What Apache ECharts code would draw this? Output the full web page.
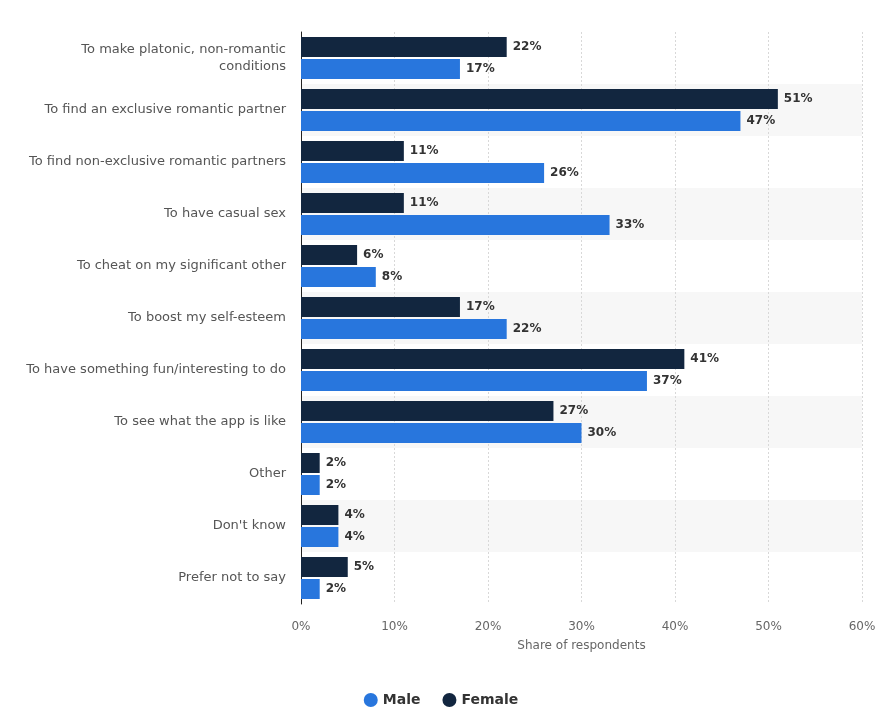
<!DOCTYPE html>
<html>
<head>
<meta charset="utf-8">
<script src="https://cdn.jsdelivr.net/npm/echarts@6/dist/echarts.min.js"></script>
<style>
  html, body { margin: 0; padding: 0; background: #fff; }
  #chart { width: 882px; height: 707px; }
</style>
</head>
<body>
<div id="chart"></div>
<script>
const categories = [
  'To make platonic, non-romantic\nconditions',
  'To find an exclusive romantic partner',
  'To find non-exclusive romantic partners',
  'To have casual sex',
  'To cheat on my significant other',
  'To boost my self-esteem',
  'To have something fun/interesting to do',
  'To see what the app is like',
  'Other',
  "Don't know",
  'Prefer not to say'
];
const femaleValues = [22, 51, 11, 11, 6, 17, 41, 27, 2, 4, 5];
const maleValues = [17, 47, 26, 33, 8, 22, 37, 30, 2, 4, 2];

const chart = echarts.init(document.getElementById('chart'));

const labelStyle = {
  show: true,
  position: 'right',
  distance: 6,
  formatter: '{c}%',
  color: '#333',
  fontWeight: 'bold',
  fontSize: 12,
  fontFamily: 'DejaVu Sans'
};

const option = {
  animation: false,
  textStyle: { fontFamily: 'DejaVu Sans' },
  legend: {
    data: ['Male', 'Female'],
    bottom: 0,
    left: 'center',
    top: 688,
    icon: 'circle',
    itemWidth: 14,
    itemHeight: 14,
    itemGap: 22,
    textStyle: { fontSize: 14, fontWeight: 'bold', color: '#333' }
  },
  grid: { left: 301, right: 20, top: 32, bottom: 103 },
  xAxis: {
    type: 'value',
    min: 0,
    max: 60,
    interval: 10,
    name: 'Share of respondents',
    nameLocation: 'middle',
    nameGap: 36,
    nameTextStyle: { color: '#666', fontSize: 12 },
    axisLabel: { formatter: '{value}%', color: '#666', fontSize: 12, margin: 17 },
    axisLine: { show: false },
    axisTick: { show: false },
    splitLine: { lineStyle: { color: '#d8d8d8', type: [2, 2] } }
  },
  yAxis: {
    type: 'category',
    inverse: true,
    data: categories,
    axisLabel: { color: '#555', fontSize: 13, margin: 15, lineHeight: 17, align: 'right' },
    axisLine: { show: true, lineStyle: { color: '#222', width: 1 } },
    axisTick: { show: false },
    splitArea: { show: true, areaStyle: { color: ['rgba(0,0,0,0)', '#f7f7f7'] } }
  },
  series: [
    {
      name: 'Female',
      type: 'bar',
      data: femaleValues,
      barWidth: 20,
      barGap: '10%',
      itemStyle: { color: '#12263f' },
      label: labelStyle
    },
    {
      name: 'Male',
      type: 'bar',
      data: maleValues,
      barWidth: 20,
      barGap: '10%',
      itemStyle: { color: '#2876dd' },
      label: labelStyle
    }
  ]
};

chart.setOption(option);
</script>
</body>
</html>
